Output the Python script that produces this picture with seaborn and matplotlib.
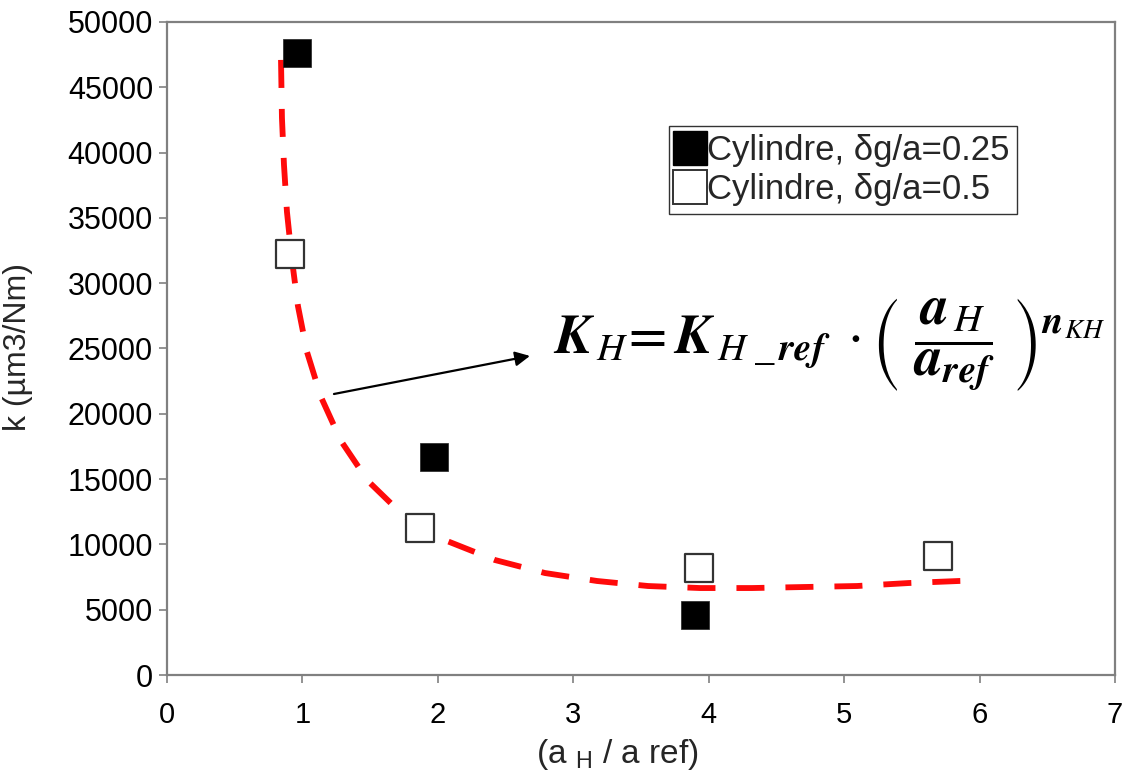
import matplotlib
matplotlib.use("Agg")
import matplotlib.pyplot as plt
import seaborn as sns
import pandas as pd
from matplotlib.lines import Line2D

# ---- data ----
black_x = [0.96, 1.97, 3.90]
black_y = [47600, 16700, 4600]
white_x = [0.91, 1.87, 3.93, 5.69]
white_y = [32200, 11250, 8200, 9100]

curve_x = [0.842, 0.849, 0.864, 0.886, 0.923, 0.967, 1.034, 1.137, 1.285, 1.484,
           1.743, 2.068, 2.422, 2.791, 3.175, 3.552, 3.936, 4.320, 4.711, 5.095,
           5.479, 5.848, 5.95]
curve_y = [47090, 42650, 39050, 35450, 31780, 28255, 24730, 21290, 17920, 14855,
           12250, 10260, 8805, 7810, 7200, 6815, 6660, 6660, 6740, 6815,
           7045, 7200, 7230]

legend_labels = ["Cylindre, δg/a=0.25", "Cylindre, δg/a=0.5"]
x_label = r"(a $_{\mathrm{H}}$ / a ref)"
y_label = "k (µm3/Nm)"
x_ticks = [0, 1, 2, 3, 4, 5, 6, 7]
y_ticks = list(range(0, 50001, 5000))

# ---- style ----
sns.set_theme(style="white")
plt.rcParams["font.family"] = ["Liberation Sans", "DejaVu Sans"]
plt.rcParams["mathtext.fontset"] = "custom"
plt.rcParams["mathtext.rm"] = "Liberation Sans"
plt.rcParams["mathtext.it"] = "Liberation Sans:italic"
plt.rcParams["mathtext.bf"] = "Liberation Sans:bold"

fig = plt.figure(figsize=(11.32, 7.72), dpi=100)
ax = fig.add_axes([0.1475, 0.1256, 0.8375, 0.846])

df_curve = pd.DataFrame({"x": curve_x, "y": curve_y})
df_black = pd.DataFrame({"x": black_x, "y": black_y})
df_white = pd.DataFrame({"x": white_x, "y": white_y})

sns.lineplot(data=df_curve, x="x", y="y", ax=ax, sort=False, color="#ff0a0a",
             lw=4.2, dashes=False, zorder=2)
ax.lines[-1].set_dashes((4.8, 3.6))

sns.scatterplot(data=df_white, x="x", y="y", ax=ax, marker="s", s=420,
                facecolor="white", edgecolor="#333333", linewidth=1.6, zorder=3)
sns.scatterplot(data=df_black, x="x", y="y", ax=ax, marker="s", s=420,
                color="black", edgecolor="#222222", linewidth=0.5, zorder=4)

ax.set_xlim(0, 7)
ax.set_ylim(0, 50000)
ax.set_xticks(x_ticks)
ax.set_yticks(y_ticks)
ax.set_xticklabels([str(t) for t in x_ticks], fontsize=21)
ax.set_yticklabels([str(t) for t in y_ticks], fontsize=22)
ax.tick_params(axis="both", direction="out", length=6, width=1.2, color="#808080",
               labelcolor="black", bottom=True, left=True)
ax.tick_params(axis="y", pad=4)
ax.tick_params(axis="x", pad=13)
for sp in ax.spines.values():
    sp.set_color("#808080")
    sp.set_linewidth(1.6)

ax.set_xlabel(x_label, fontsize=24)
ax.set_ylabel(y_label, fontsize=23)
ax.xaxis.set_label_coords(0.475, -0.095)
ax.yaxis.set_label_coords(-0.141, 0.502)

# arrow pointing to the equation
ax.annotate("", xy=(2.68, 24430), xytext=(1.233, 21516),
            arrowprops=dict(arrowstyle="-|>", color="black", lw=1.6,
                            mutation_scale=22, shrinkA=0, shrinkB=0))

eq = (r"$\mathbfit{K}_{\,H}\!=\mathbfit{K}_{\,H\ \_\,\mathbfit{ref}}\ \cdot"
      r"\left(\ \dfrac{\mathbfit{a}_{\,H}}{\mathbfit{a}_{\mathbfit{ref}}}\ \right)"
      r"^{\mathbfit{n}_{KH}}$")
fig.text(553 / 1132, 1 - 345 / 772, eq, fontsize=40, ha="left", va="center",
         math_fontfamily="stix", color="black")

# legend
handles = [
    Line2D([], [], marker="s", ls="none", markersize=24, markerfacecolor="black",
           markeredgecolor="black"),
    Line2D([], [], marker="s", ls="none", markersize=24, markerfacecolor="white",
           markeredgecolor="#333333", markeredgewidth=1.4),
]
leg = ax.legend(handles, legend_labels, loc="upper left",
                bbox_to_anchor=(0.53, 0.84), fontsize=25, frameon=True,
                fancybox=False, edgecolor="black", handlelength=0.75,
                handletextpad=0.12, borderpad=0.22, labelspacing=0.18,
                borderaxespad=0)
leg.get_frame().set_linewidth(1.0)

fig.savefig("out.png", dpi=100)
